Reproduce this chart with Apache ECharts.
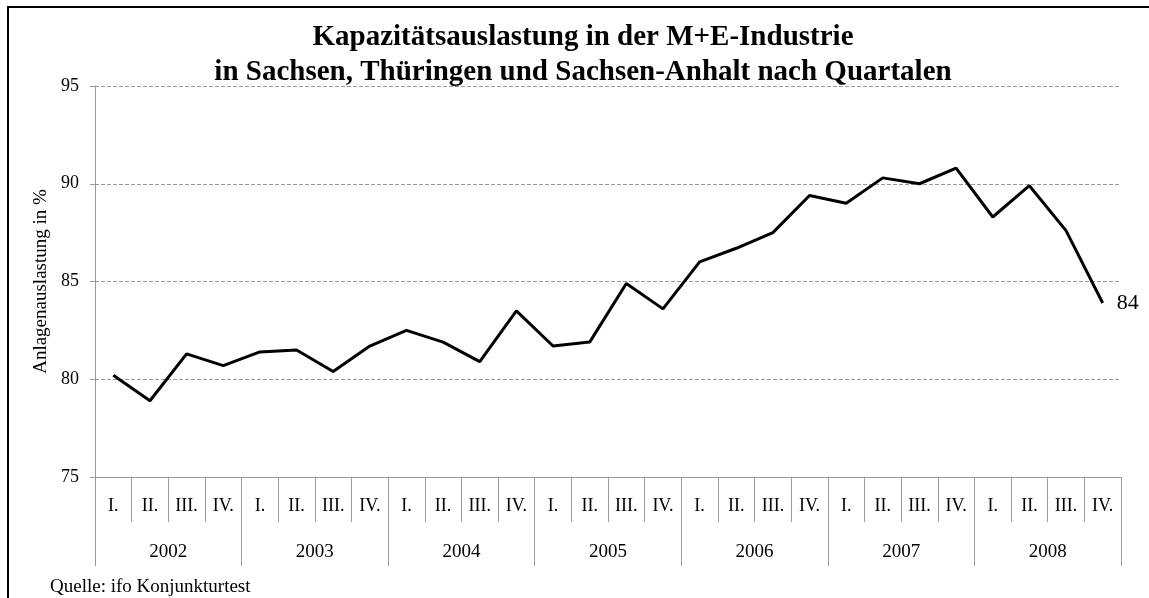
<!DOCTYPE html>
<html>
<head>
<meta charset="utf-8">
<script src="https://cdn.jsdelivr.net/npm/echarts@6/dist/echarts.min.js"></script>
<style>
  html, body { margin: 0; padding: 0; background: #fff; }
  #chart { width: 1149px; height: 598px; }
</style>
</head>
<body>
<div id="chart"></div>
<script>
// Daten
var quartale = ['I.', 'II.', 'III.', 'IV.'];
var jahre = ['2002', '2003', '2004', '2005', '2006', '2007', '2008'];
var auslastung = [
    80.2, 78.9, 81.3, 80.7,   // 2002
    81.4, 81.5, 80.4, 81.7,   // 2003
    82.5, 81.9, 80.9, 83.5,   // 2004
    81.7, 81.9, 84.9, 83.6,   // 2005
    86.0, 86.7, 87.5, 89.4,   // 2006
    89.0, 90.3, 90.0, 90.8,   // 2007
    88.3, 89.9, 87.6, 83.9    // 2008
];
var yTicks = { min: 75, max: 95, interval: 5 };

var kategorien = [];
jahre.forEach(function (j) {
    quartale.forEach(function (q) { kategorien.push(q); });
});

var serif = '"Liberation Serif", "Times New Roman", serif';
var grau = '#9a9a9a';

var myChart = echarts.init(document.getElementById('chart'));
var option = {
    backgroundColor: '#fff',
    grid: {
        left: 95,
        right: 28,
        top: 86,
        bottom: 121
    },
    xAxis: [{
        type: 'category',
        data: kategorien,
        boundaryGap: true,
        axisLine: { show: true, lineStyle: { color: grau, width: 1 } },
        axisTick: {
            show: true,
            interval: 0,
            length: 45,
            lineStyle: { color: grau }
        },
        axisLabel: {
            interval: 0,
            margin: 20,
            fontFamily: serif,
            fontSize: 18,
            color: '#000'
        }
    }, {
        type: 'category',
        data: jahre,
        position: 'bottom',
        boundaryGap: true,
        axisLine: { show: false },
        axisTick: {
            show: true,
            interval: 0,
            length: 89,
            lineStyle: { color: grau }
        },
        axisLabel: {
            interval: 0,
            margin: 66,
            fontFamily: serif,
            fontSize: 19,
            color: '#000'
        }
    }],
    yAxis: {
        type: 'value',
        min: yTicks.min,
        max: yTicks.max,
        interval: yTicks.interval,
        name: 'Anlagenauslastung in %',
        nameLocation: 'middle',
        nameRotate: 90,
        nameGap: 43,
        nameTextStyle: {
            fontFamily: serif,
            fontSize: 19,
            color: '#000'
        },
        axisLine: { show: true, lineStyle: { color: grau } },
        axisTick: { show: true, length: 5, lineStyle: { color: grau } },
        axisLabel: {
            margin: 16,
            fontFamily: serif,
            fontSize: 18,
            color: '#000'
        },
        splitLine: {
            lineStyle: { color: grau, type: [4, 2], width: 1 }
        }
    },
    series: [{
        name: 'Auslastung',
        type: 'line',
        xAxisIndex: 0,
        data: auslastung,
        symbol: 'none',
        lineStyle: { color: '#000', width: 3 },
        itemStyle: { color: '#000' },
        endLabel: {
            show: true,
            distance: 14,
            fontFamily: serif,
            fontSize: 22,
            color: '#000',
            formatter: function (p) { return Math.round(p.value); }
        },
        silent: true,
        animation: false
    }],
    graphic: [{
        type: 'rect',
        shape: { x: 8, y: 7, width: 1400, height: 800 },
        style: { fill: null, stroke: '#000', lineWidth: 2 },
        silent: true
    }, {
        type: 'text',
        x: 583,
        y: 20,
        style: {
            text: 'Kapazitätsauslastung in der M+E-Industrie\nin Sachsen, Thüringen und Sachsen-Anhalt nach Quartalen',
            font: 'bold 29px ' + serif,
            lineHeight: 35,
            align: 'center',
            fill: '#000'
        },
        silent: true
    }, {
        type: 'text',
        left: 50,
        top: 578,
        style: {
            text: 'Quelle: ifo Konjunkturtest',
            font: '19px ' + serif,
            fill: '#000'
        }
    }],
    animation: false
};
myChart.setOption(option);

window.onresize = function () {
    myChart.resize();
};
</script>
</body>
</html>
